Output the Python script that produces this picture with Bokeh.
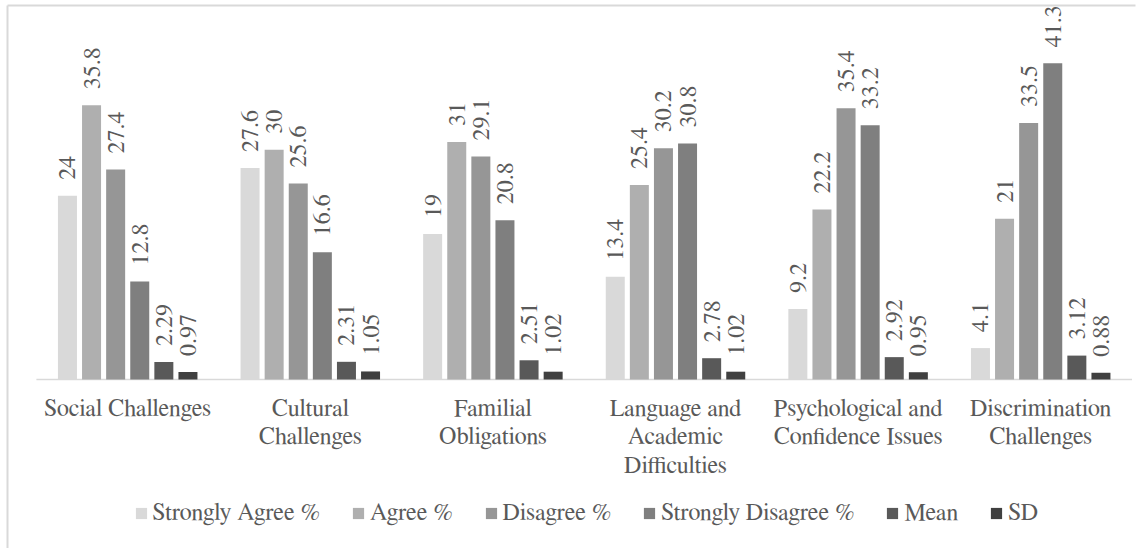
from math import pi

from bokeh.plotting import figure
from bokeh.models import Range1d, ColumnDataSource, Legend, LegendItem
from bokeh.core.properties import value
from bokeh.transform import dodge
from bokeh.embed import file_html
from bokeh.resources import INLINE

# ---- data -------------------------------------------------------------
categories = [
    "Social Challenges",
    "Cultural\nChallenges",
    "Familial\nObligations",
    "Language and\nAcademic\nDifficulties",
    "Psychological and\nConfidence Issues",
    "Discrimination\nChallenges",
]
series_names = ["Strongly Agree %", "Agree %", "Disagree %",
                "Strongly Disagree %", "Mean", "SD"]

strongly_agree = [24, 27.6, 19, 13.4, 9.2, 4.1]
agree = [35.8, 30, 31, 25.4, 22.2, 21]
disagree = [27.4, 25.6, 29.1, 30.2, 35.4, 33.5]
strongly_disagree = [12.8, 16.6, 20.8, 30.8, 33.2, 41.3]
mean = [2.29, 2.31, 2.51, 2.78, 2.92, 3.12]
sd = [0.97, 1.05, 1.02, 1.02, 0.95, 0.88]

series_keys = ["strongly_agree", "agree", "disagree", "strongly_disagree", "mean", "sd"]
series_values = [strongly_agree, agree, disagree, strongly_disagree, mean, sd]
colors = ["#d9d9d9", "#afafaf", "#969696", "#7f7f7f", "#595959", "#404040"]

# ---- layout (pixels) ---------------------------------------------------
W, H = 1145, 548
CAT0_PX = 127.2      # centre of the first category group
CAT_PX = 182.6       # width of one category slot
BASE_PX = 379        # y pixel of the zero line
UNIT_PX = 7.66       # pixels per value unit
BAR_STEP = 24.1 / CAT_PX
BAR_W = 19 / CAT_PX

FONT_NAME = "FreeSerif"
FONT = value(FONT_NAME)
TEXT_COLOR = "#595959"
FONT_SIZE = "24px"


def x_px(px):
    return (px - CAT0_PX) / CAT_PX


def y_px(py):
    return (BASE_PX - py) / UNIT_PX


data = {"idx": list(range(len(categories))), "cat": categories}
for key, vals in zip(series_keys, series_values):
    data[key] = vals
    data[key + "_lbl"] = [f"{v:g}" for v in vals]
src = ColumnDataSource(data)

p = figure(
    width=W, height=H,
    x_range=Range1d(x_px(0), x_px(W)),
    y_range=Range1d(y_px(H), y_px(0)),
    x_axis_type=None, y_axis_type=None,
    output_backend="svg", toolbar_location=None,
    min_border=0, outline_line_color=None,
)
p.background_fill_color = "white"
p.border_fill_color = "white"

# chart-area border (left and top edges)
p.segment(x0=[x_px(7), x_px(7)], y0=[y_px(5), y_px(5)],
          x1=[x_px(1135), x_px(7)], y1=[y_px(5), y_px(H + 10)],
          line_color="#d9d9d9", line_width=2)

# category baseline
p.segment(x0=-0.5, y0=0, x1=len(categories) - 0.5, y1=0,
          line_color="#d9d9d9", line_width=1.5)

legend_items = []
for j, (key, name, col) in enumerate(zip(series_keys, series_names, colors)):
    off = (j - (len(series_keys) - 1) / 2) * BAR_STEP
    r = p.vbar(x=dodge("idx", off), top=key, bottom=0, width=BAR_W,
               source=src, fill_color=col, line_color=None)
    legend_items.append(LegendItem(label=name, renderers=[r]))
    p.text(x=dodge("idx", off), y=key, text=key + "_lbl", source=src,
           angle=pi / 2, text_align="left", text_baseline="middle",
           y_offset=-16, text_font=FONT, text_font_size=FONT_SIZE,
           text_color=TEXT_COLOR)

# category labels under the baseline
p.text(x="idx", y=0, text="cat", source=src, text_align="center",
       text_baseline="top", y_offset=17, text_line_height=1.2,
       text_font=FONT, text_font_size=FONT_SIZE, text_color=TEXT_COLOR)

legend = Legend(
    items=legend_items, orientation="horizontal",
    location=(133.6, 22),
    glyph_width=14, glyph_height=14, label_standoff=5, spacing=31,
    padding=0, margin=0, border_line_color=None, background_fill_alpha=0,
    label_text_font=FONT_NAME, label_text_font_size=FONT_SIZE,
    label_text_color=TEXT_COLOR,
)
p.add_layout(legend)

open("out.html", "w").write(file_html(p, INLINE))
